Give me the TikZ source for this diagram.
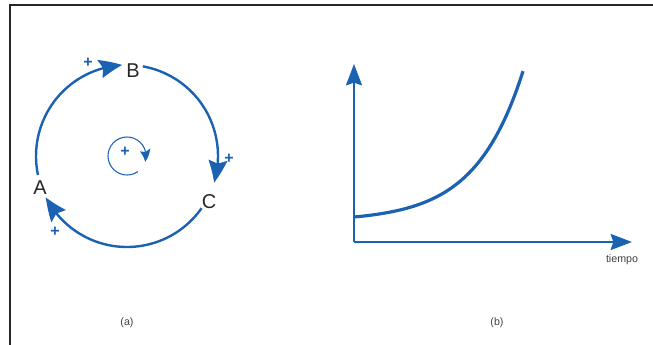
\documentclass[tikz,border=0pt]{standalone}
\usepackage{fontspec}
\setmainfont{Liberation Sans}
\usetikzlibrary{arrows.meta,bending}
\definecolor{loopblue}{RGB}{28,98,178}
\begin{document}
\begin{tikzpicture}[x=0.75pt,y=-0.75pt,
  lbl/.style={inner sep=0pt,font=\fontsize{15}{15}\selectfont,text=black!85},
  sign/.style={inner sep=0pt,font=\fontsize{12}{12}\selectfont\bfseries,text=loopblue},
  looparrow/.style={draw=loopblue,line width=1.8pt,-{Stealth[length=17pt,width=14pt,inset=2.5pt,bend]}},
  axisarrow/.style={draw=loopblue,line width=1.6pt,-{Stealth[length=16pt,width=12pt,inset=2pt]}},
  captext/.style={inner sep=0pt,font=\fontsize{8}{8}\selectfont,text=black!75}]
\useasboundingbox (0,0) rectangle (653,345);
% frame
\draw[black!85,line width=1.2pt] (10,345) -- (10,5) -- (653,5);
% (a) causal loop
\coordinate (O) at (127,156);
\node[lbl] (A) at (40,188) {A};
\node[lbl] (B) at (133,71) {B};
\node[lbl] (C) at (209,202) {C};
\draw[looparrow] ([shift={(-192:91)}]O) arc[start angle=-192,end angle=-93,radius=91];
\draw[looparrow] ([shift={(-80:91)}]O) arc[start angle=-80,end angle=17,radius=91];
\draw[looparrow] ([shift={(35:91)}]O) arc[start angle=35,end angle=153,radius=91];
\node[sign] (p1) at (88,63) {+};
\node[sign] (p2) at (229,159) {+};
\node[sign] (p3) at (55,232) {+};
% inner loop
\draw[draw=loopblue,line width=0.8pt,-{Stealth[length=9pt,width=8pt,inset=1.5pt,bend]}]
  ([shift={(55:19)}]O) arc[start angle=55,end angle=378,radius=19];
\node[sign] (p0) at (125,152) {+};
\node[captext] (la) at (127,323) {(a)};
% (b) exponential growth
\coordinate (orig) at (354,242);
\coordinate (ytop) at (354,64);
\coordinate (xend) at (632,242);
\draw[axisarrow] (orig) -- (ytop);
\draw[axisarrow] (orig) -- (xend);
\draw[draw=loopblue,line width=2.4pt,domain=0:169,samples=80,smooth]
  plot ({354+\x},{217-4.32*(exp(0.021*\x)-1)});
\node[captext] (t) at (622,260) {tiempo};
\node[captext] (lb) at (497,323) {(b)};
\end{tikzpicture}
\end{document}
